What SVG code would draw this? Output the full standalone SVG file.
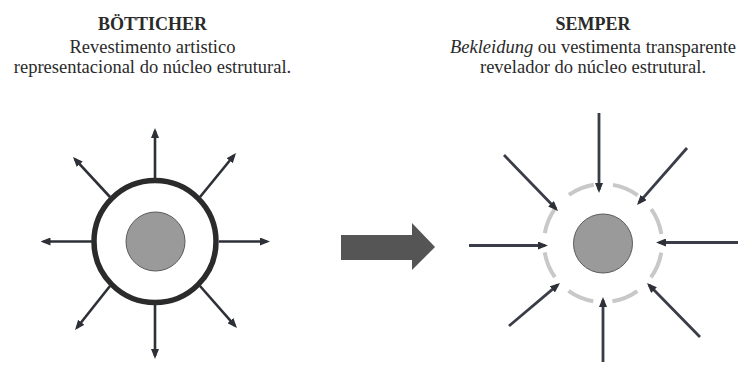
<svg xmlns="http://www.w3.org/2000/svg" width="740" height="372" viewBox="0 0 740 372">
<style>
.core{fill:#9a9a9a;stroke:#5a5a5a;stroke-width:1}
.out line{stroke:#2e3038;stroke-width:2.6;marker-end:url(#ah)}
.in line{stroke:#3a3d47;stroke-width:2.8;marker-end:url(#ah)}
</style>
<defs>
<marker id="ah" viewBox="0 0 10 8" markerWidth="10" markerHeight="8" refX="7" refY="4" orient="auto" markerUnits="userSpaceOnUse">
<path d="M0,0 L10,4 L0,8 z" fill="#2e3038"/>
</marker>
</defs>
<rect width="740" height="372" fill="#fff"/>
<g id="label-botticher">
<text x="152.5" y="30" font-family="Liberation Serif" font-size="18" font-weight="bold" fill="#2a2a2a" text-anchor="middle">BÖTTICHER</text>
<text x="152.5" y="52.5" font-family="Liberation Serif" font-size="18.5" fill="#2a2a2a" text-anchor="middle">Revestimento artistico</text>
<text x="152.5" y="72.5" font-family="Liberation Serif" font-size="18.5" fill="#2a2a2a" text-anchor="middle">representacional do núcleo estrutural.</text>
</g>
<g id="label-semper">
<text x="593" y="30" font-family="Liberation Serif" font-size="18" font-weight="bold" fill="#2a2a2a" text-anchor="middle">SEMPER</text>
<text x="593" y="52.5" font-family="Liberation Serif" font-size="18.5" fill="#2a2a2a" text-anchor="middle"><tspan font-style="italic">Bekleidung</tspan> ou vestimenta transparente</text>
<text x="593" y="72.5" font-family="Liberation Serif" font-size="18.5" fill="#2a2a2a" text-anchor="middle">revelador do núcleo estrutural.</text>
</g>
<g id="botticher-node">
<circle cx="155" cy="241.5" r="61" fill="#fff" stroke="#2b2b2b" stroke-width="5.5"/>
<circle class="core" cx="155.5" cy="241.5" r="29.5"/>
</g>
<g id="semper-node">
<circle cx="603" cy="243" r="59" fill="none" stroke="#c8c8c8" stroke-width="4" stroke-dasharray="27 19.33" stroke-dashoffset="36.66"/>
<circle class="core" cx="603" cy="243.5" r="29.5"/>
</g>
<g id="transition-arrow">
<polygon points="341,235 412,235 412,223 435,247 412,270 412,260 341,260" fill="#555"/>
</g>
<g id="connectors">
<g class="out">
<line x1="155" y1="180" x2="155" y2="131"/>
<line x1="155" y1="303" x2="155" y2="356"/>
<line x1="92" y1="241.5" x2="43.5" y2="241.5"/>
<line x1="219" y1="241.5" x2="267" y2="241.5"/>
<line x1="110" y1="197" x2="75" y2="159.2"/>
<line x1="200" y1="197" x2="234.1" y2="155.3"/>
<line x1="110" y1="286" x2="76.9" y2="327.7"/>
<line x1="200" y1="286" x2="235" y2="325.8"/>
</g>
<g class="in">
<line x1="599" y1="113" x2="599" y2="190"/>
<line x1="504" y1="155" x2="555.9" y2="208.8"/>
<line x1="687" y1="148" x2="639" y2="202.7"/>
<line x1="469" y1="245.5" x2="545" y2="245.5"/>
<line x1="738" y1="242.5" x2="659" y2="242.5"/>
<line x1="509" y1="326" x2="557.7" y2="284.9"/>
<line x1="603" y1="362" x2="603" y2="300"/>
<line x1="700" y1="337" x2="649.1" y2="285.1"/>
</g>
</g>
</svg>
